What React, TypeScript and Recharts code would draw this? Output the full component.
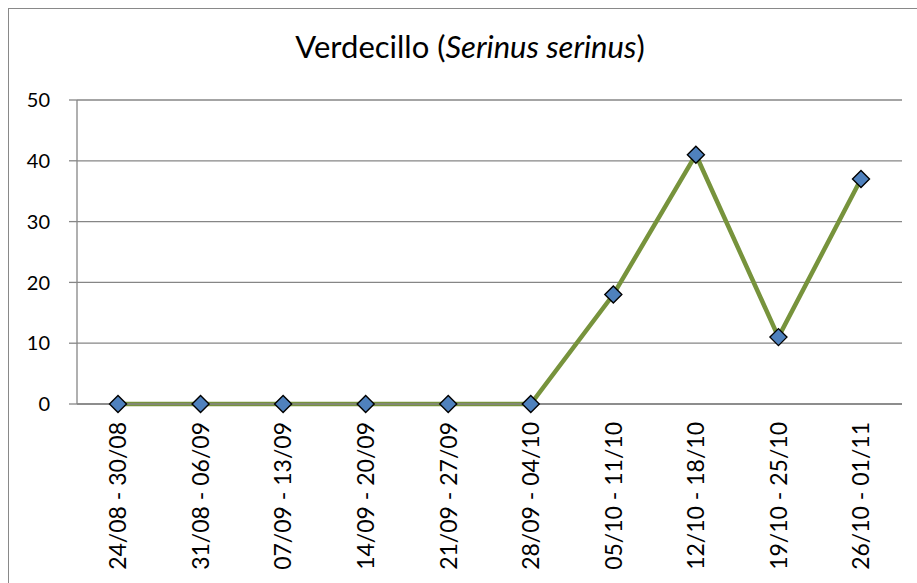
import React from 'react';
import { LineChart, Line, XAxis, YAxis, CartesianGrid } from 'recharts';

const categories = [
  '24/08 - 30/08', '31/08 - 06/09', '07/09 - 13/09', '14/09 - 20/09', '21/09 - 27/09',
  '28/09 - 04/10', '05/10 - 11/10', '12/10 - 18/10', '19/10 - 25/10', '26/10 - 01/11',
];
const counts = [0, 0, 0, 0, 0, 0, 18, 41, 11, 37];
const yTicks = [0, 10, 20, 30, 40, 50];
const yMinorTicks = [5, 15, 25, 35, 45];
const xBoundaryTicks = [0, 1, 2, 3, 4, 5, 6, 7, 8, 9, 10];

const data = categories.map((c, i) => ({ week: c, value: counts[i] }));

const FONT = 'Lato, "Liberation Sans", sans-serif';
const GRAY = '#868686';

const Diamond = (props: any) => {
  const { cx, cy, index } = props;
  if (cx == null || cy == null) return null;
  const r = 8.5;
  return (
    <path
      key={`d-${index}`}
      d={`M${cx},${cy - r} L${cx + r},${cy} L${cx},${cy + r} L${cx - r},${cy} Z`}
      fill="#4F81BD"
      stroke="#000"
      strokeWidth={1.4}
    />
  );
};

const XTick = (props: any) => {
  const { x, y, payload } = props;
  return (
    <g transform={`translate(${x},${y})`}>
      <text
        x={0}
        y={0}
        transform="rotate(-90)"
        textAnchor="end"
        dy="0.36em"
        fill="#000"
        fontSize={23}
        fontFamily={FONT}
      >
        {payload.value}
      </text>
    </g>
  );
};

export default function App() {
  return (
    <div style={{ position: 'absolute', left: 0, top: 0, width: 917, height: 583, overflow: 'hidden', background: '#fff' }}>
      <div
        style={{
          position: 'absolute', left: 8, top: 8, width: 1000, height: 1000,
          border: '1px solid #898989', boxSizing: 'border-box',
        }}
      />
      <div
        style={{
          position: 'absolute', left: 120, width: 700, top: 28, textAlign: 'center',
          fontFamily: FONT, fontSize: 31, color: '#000', lineHeight: '37px', whiteSpace: 'nowrap',
        }}
      >
        Verdecillo (<i>Serinus serinus</i>)
      </div>
      <div style={{ position: 'absolute', left: 0, top: 0 }}>
        <LineChart width={917} height={583} data={data} margin={{ top: 100, right: 15, bottom: 9, left: 27 }}>
          <CartesianGrid vertical={false} stroke={GRAY} strokeWidth={1.3} />
          <XAxis
            xAxisId="b"
            type="number"
            domain={[0, 10]}
            allowDataOverflow
            ticks={xBoundaryTicks}
            interval={0}
            height={0}
            axisLine={false}
            tickSize={6}
            tickLine={{ stroke: GRAY, strokeWidth: 1.3 }}
            tickFormatter={() => ''}
          />
          <XAxis
            dataKey="week"
            height={170}
            interval={0}
            padding={{ left: 41, right: 41 }}
            axisLine={{ stroke: GRAY, strokeWidth: 1.3 }}
            tickLine={false}
            tickSize={0}
            tickMargin={18}
            tick={<XTick />}
          />
          <YAxis
            yAxisId="m"
            domain={[0, 50]}
            ticks={yMinorTicks}
            interval={0}
            width={0}
            axisLine={false}
            tickSize={6}
            tickLine={{ stroke: GRAY, strokeWidth: 1.3 }}
            tickFormatter={() => ''}
          />
          <YAxis
            domain={[0, 50]}
            ticks={yTicks}
            interval={0}
            width={50}
            axisLine={{ stroke: GRAY, strokeWidth: 1.3 }}
            tickLine={{ stroke: GRAY, strokeWidth: 1.3 }}
            tickSize={8}
            tickMargin={19}
            tick={{ fill: '#000', fontSize: 20, fontFamily: FONT }}
          />
          <Line
            type="linear"
            dataKey="value"
            stroke="#77933C"
            strokeWidth={4.5}
            dot={<Diamond />}
            activeDot={false}
            isAnimationActive={false}
          />
        </LineChart>
      </div>
    </div>
  );
}
